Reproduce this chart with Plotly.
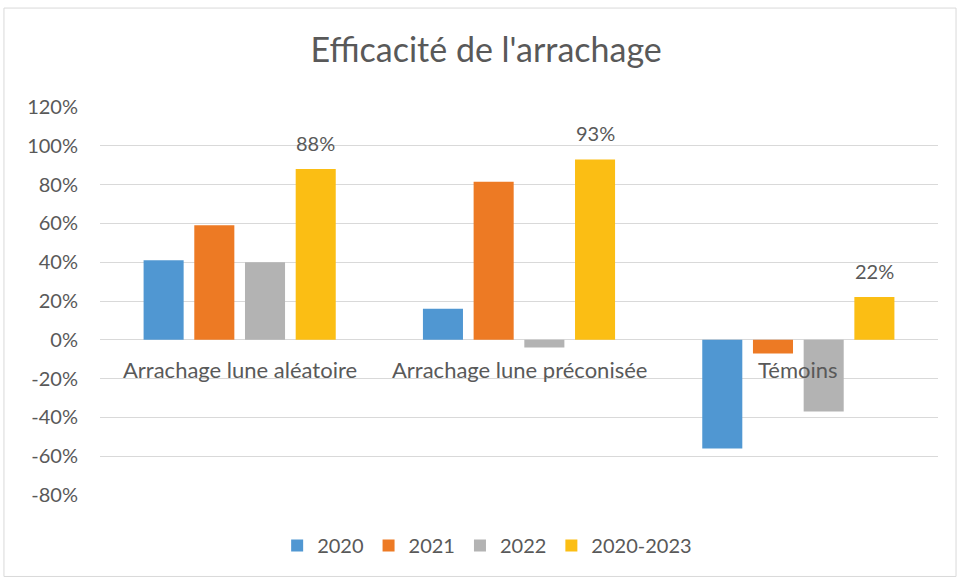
import plotly.graph_objects as go

categories = ["Arrachage lune aléatoire", "Arrachage lune préconisée", "Témoins"]
series_names = ["2020", "2021", "2022", "2020-2023"]
v2020 = [0.41, 0.16, -0.56]
v2021 = [0.59, 0.815, -0.07]
v2022 = [0.40, -0.04, -0.37]
v2020_2023 = [0.88, 0.93, 0.22]
colors = ["#5097D2", "#ED7A24", "#B3B3B3", "#FBBE14"]
y_ticks = [-0.8, -0.6, -0.4, -0.2, 0, 0.2, 0.4, 0.6, 0.8, 1.0, 1.2]
y_tick_labels = ["-80%", "-60%", "-40%", "-20%", "0%", "20%", "40%", "60%", "80%", "100%", "120%"]
title_text = "Efficacité de l'arrachage"

FONT = "Lato"
GREY = "#595959"
BARGAP = 0.274
BARGROUPGAP = 0.21

fig = go.Figure()
all_vals = [v2020, v2021, v2022, v2020_2023]
for i, (name, vals) in enumerate(zip(series_names, all_vals)):
    fig.add_trace(go.Bar(x=list(range(len(categories))), y=vals, name=name,
                         marker_color=colors[i], marker_line_width=0))

# data labels for the 2020-2023 series, placed above its bars (offset derived from bar layout)
n_series = len(series_names)
slot = (1 - BARGAP) / n_series
offset = -(1 - BARGAP) / 2 + slot * (n_series - 0.5)
for i, v in enumerate(v2020_2023):
    fig.add_annotation(x=i + offset, y=v, xref="x", yref="y", text=f"{round(v*100)}%",
                       showarrow=False, yanchor="middle", yshift=26,
                       font=dict(family=FONT, size=20, color=GREY))

for i, c in enumerate(categories):
    fig.add_annotation(x=i, y=0, xref="x", yref="y", text=c, showarrow=False,
                       yanchor="middle", yshift=-30,
                       font=dict(family=FONT, size=22, color=GREY))

fig.add_shape(type="rect", xref="paper", yref="paper", x0=-0.1146, x1=1.0215, y0=-0.21, y1=1.255,
              line=dict(color="#D9D9D9", width=1), fillcolor="rgba(0,0,0,0)", layer="below")

fig.update_layout(
    width=957, height=578,
    margin=dict(l=100, r=19, t=107, b=83),
    paper_bgcolor="white", plot_bgcolor="white",
    barmode="group", bargap=BARGAP, bargroupgap=BARGROUPGAP,
    title=dict(text=title_text, x=0.508, xanchor="center", y=0.913, yanchor="middle",
               font=dict(family=FONT, size=34, color=GREY)),
    showlegend=True,
    legend=dict(orientation="h", x=0.462, xanchor="center", y=-0.13, yanchor="middle",
                font=dict(family=FONT, size=20, color=GREY), itemwidth=30,
                traceorder="normal"),
    xaxis=dict(range=[-0.5, 2.5], showticklabels=False, showgrid=False, zeroline=False,
               showline=False, ticks=""),
    yaxis=dict(range=[-0.8, 1.2], tickvals=y_ticks, ticktext=y_tick_labels,
               showgrid=True, gridcolor="#D9D9D9", gridwidth=1,
               zeroline=True, zerolinecolor="#D9D9D9", zerolinewidth=1,
               tickfont=dict(family=FONT, size=20, color=GREY), ticks="", ticklabelstandoff=21),
)

fig.write_html("out.html", config={"displayModeBar": False},
               post_script="document.body.style.margin='0';")
